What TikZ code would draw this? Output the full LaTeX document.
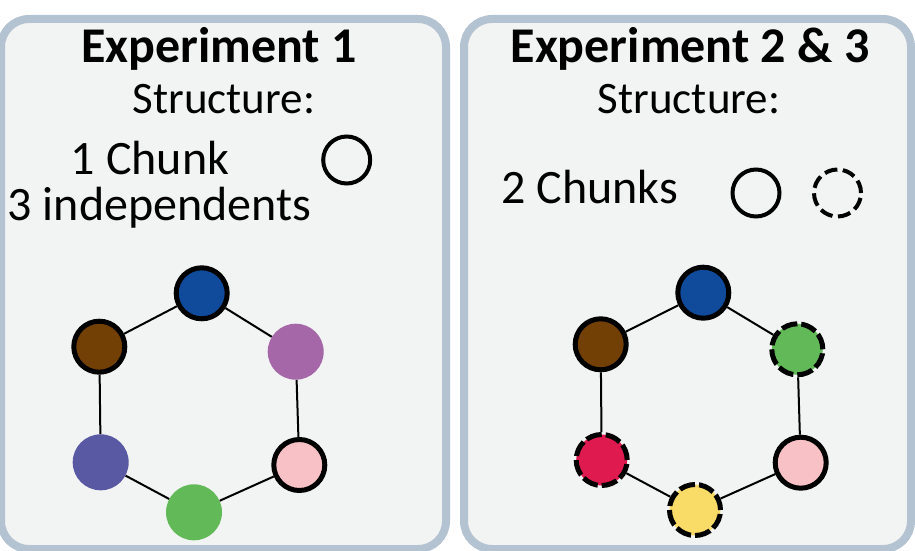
\documentclass[tikz,border=0pt]{standalone}
\usepackage{fontspec}
\setmainfont{Carlito}
\definecolor{panelborder}{RGB}{180,195,209}
\definecolor{panelfill}{RGB}{242,243,243}
\definecolor{cblue}{RGB}{15,74,155}
\definecolor{cbrown}{RGB}{114,63,5}
\definecolor{cpurple}{RGB}{165,103,168}
\definecolor{cperi}{RGB}{88,88,163}
\definecolor{cpink}{RGB}{247,193,197}
\definecolor{cgreen}{RGB}{98,185,87}
\definecolor{cred}{RGB}{222,26,79}
\definecolor{cyellow}{RGB}{249,220,104}
\begin{document}
\begin{tikzpicture}[x=1pt,y=-1pt,
  panel/.style={draw=panelborder, fill=panelfill, line width=8pt, rounded corners=28pt},
  titletext/.style={anchor=base, inner sep=0pt, font=\fontsize{50}{54}\selectfont\bfseries},
  headtext/.style={anchor=base, inner sep=0pt, font=\fontsize{45}{50}\selectfont},
  bodytext/.style={anchor=base, inner sep=0pt, font=\fontsize{48}{52}\selectfont},
  ball/.style={circle, inner sep=0pt, minimum size=56pt, fill=#1},
  chunkball/.style={circle, inner sep=0pt, minimum size=51pt, fill=#1, draw=black, line width=5pt},
  dashball/.style={chunkball=#1, dash pattern=on 16pt off 4pt},
  legendsolid/.style={circle, inner sep=0pt, minimum size=47pt, draw=black, line width=4pt},
  legenddash/.style={legendsolid, dash pattern=on 13pt off 5.5pt},
  edge/.style={line width=2pt, black}
]
\useasboundingbox (0,0) rectangle (915,551);
% panels
\draw[panel] (1,19) rectangle (446,549);
\draw[panel] (464,19) rectangle (911,549);

% left panel texts
\node[titletext] (t1) at (219,63) {Experiment 1};
\node[headtext] (s1) at (224,113) {Structure:};
\node[bodytext] (c1) at (150,174.5) {1 Chunk};
\node[bodytext] (i1) at (159.5,220) {3 independents};
\node[legendsolid] (l1) at (346.7,160) {};

% right panel texts
\node[titletext] (t2) at (690,63) {Experiment 2 \& 3};
\node[headtext] (s2) at (689,113) {Structure:};
\node[bodytext] (c2) at (589.7,203.3) {2 Chunks};
\node[legendsolid] (l2) at (756,193) {};
\node[legenddash] (l3) at (837.5,193) {};

% left hexagon
\node[chunkball=cblue] (a1) at (201.7,293.3) {};
\node[ball=cpurple] (a2) at (295.7,351.7) {};
\node[chunkball=cpink] (a3) at (299.3,465) {};
\node[ball=cgreen] (a4) at (194,512.3) {};
\node[ball=cperi] (a5) at (100.7,462.3) {};
\node[chunkball=cbrown] (a6) at (99.3,346.7) {};
\draw[edge] (a1) -- (a2);
\draw[edge] (a2) -- (a3);
\draw[edge] (a3) -- (a4);
\draw[edge] (a4) -- (a5);
\draw[edge] (a5) -- (a6);
\draw[edge] (a6) -- (a1);

% right hexagon
\node[chunkball=cblue] (b1) at (703.3,292.7) {};
\node[dashball=cgreen] (b2) at (797.3,349.3) {};
\node[chunkball=cpink] (b3) at (800.7,462.7) {};
\node[dashball=cyellow] (b4) at (695,510) {};
\node[dashball=cred] (b5) at (601.7,460) {};
\node[chunkball=cbrown] (b6) at (600.7,344.3) {};
\draw[edge] (b1) -- (b2);
\draw[edge] (b2) -- (b3);
\draw[edge] (b3) -- (b4);
\draw[edge] (b4) -- (b5);
\draw[edge] (b5) -- (b6);
\draw[edge] (b6) -- (b1);
\end{tikzpicture}
\end{document}
